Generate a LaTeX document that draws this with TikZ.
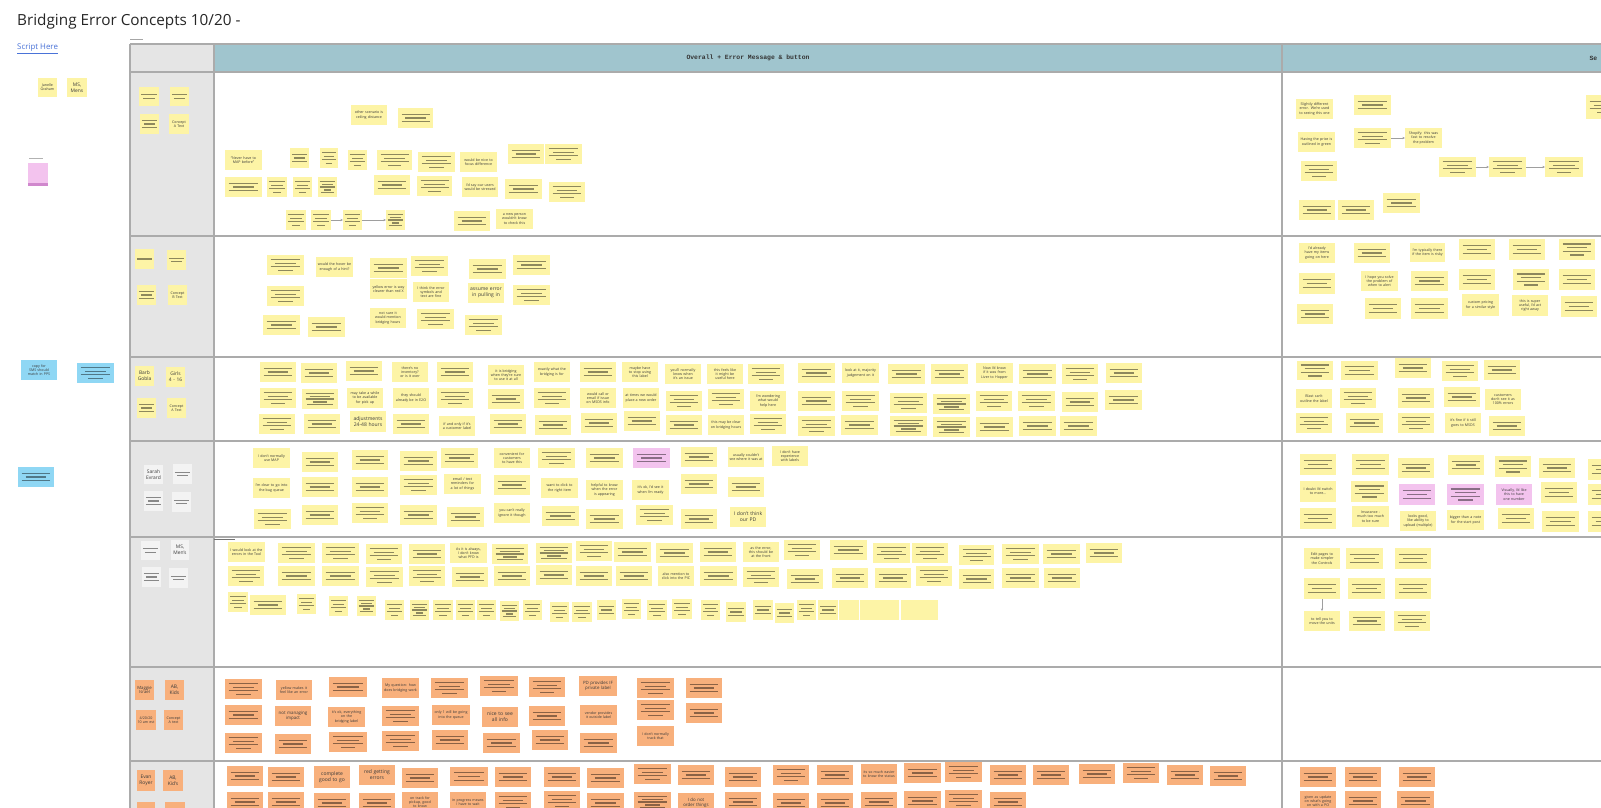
\documentclass[tikz,border=0pt]{standalone}
\usepackage{fontspec}
\setmainfont{Open Sans}
\newfontfamily\hdrmono{Liberation Mono}
\usetikzlibrary{calc,arrows.meta}
\definecolor{sy}{HTML}{FDF4A6}
\definecolor{so}{HTML}{F8B07C}
\definecolor{sp}{HTML}{F3C3EE}
\definecolor{sb}{HTML}{8FD7F4}
\definecolor{sg}{HTML}{F3F3F3}
\definecolor{colbg}{HTML}{E5E5E5}
\definecolor{hdrc}{HTML}{A0C5CE}
\definecolor{bordc}{HTML}{ABABAB}
\definecolor{linkc}{HTML}{4A73D8}
\definecolor{txtc}{HTML}{3A3A3A}
\hyphenpenalty=10000\relax
\exhyphenpenalty=10000\relax
\tikzset{
 sticky/.style={rectangle, inner sep=0pt, outer sep=0pt, draw=none},
 stkline/.style={line width=1.2pt, draw=black, draw opacity=0.44},
 tx/.style={font=\fontsize{3.6}{4.3}\selectfont},
 tm/.style={font=\fontsize{4.4}{5.1}\selectfont},
 tb/.style={font=\fontsize{5}{5.8}\selectfont},
 tl/.style={font=\fontsize{4.9}{5.8}\selectfont},
 conn/.style={draw=black!38, line width=0.7pt, -{Stealth[length=2.6pt,width=2.2pt]}},
 bline/.style={draw=bordc, line width=1.1pt},
}
\newcount\stkcount
\newcommand\stk[7][]{%
  \global\advance\stkcount by 1\relax
  \def\tmpname{#1}%
  \ifx\tmpname\empty\edef\tmpname{s\the\stkcount}\fi
  \pgfmathsetmacro\stkW{#5-#3}%
  \pgfmathsetmacro\stkH{#6-#4}%
  \node[sticky,fill=#2,minimum width=\stkW pt,minimum height=\stkH pt,anchor=north west] (\tmpname) at (#3,#4) {};%
  \ifnum#7>0\relax
    \pgfmathsetmacro\stkS{#7>4 ? 2.9 : 3.7}%
    \foreach \k in {1,...,#7}{%
      \pgfmathsetmacro\stkF{{0.8,0.58,0.8,0.38,0.7}[\k-1]}%
      \pgfmathsetmacro\stkY{(\k-1-(#7-1)/2)*\stkS}%
      \draw[stkline] ($(\tmpname.center)+(-\stkF*\stkW/2,\stkY)$) -- ++(\stkF*\stkW,0);%
    }%
  \fi
}
\newcommand\stt[8][]{%
  \global\advance\stkcount by 1\relax
  \def\tmpname{#1}%
  \ifx\tmpname\empty\edef\tmpname{s\the\stkcount}\fi
  \pgfmathsetmacro\stkW{#5-#3}%
  \pgfmathsetmacro\stkH{#6-#4}%
  \pgfmathsetmacro\stkT{#5-#3-3}%
  \node[sticky,#7,fill=#2,text=txtc,align=center,inner sep=1.5pt,text width=\stkT pt,minimum width=\stkW pt,minimum height=\stkH pt,anchor=north west] (\tmpname) at (#3,#4) {#8};%
}
\newcommand\ys[5]{\stk{sy}{#1}{#2}{#3}{#4}{#5}}
\newcommand\yt[5]{\stt{sy}{#1}{#2}{#3}{#4}{tx}{#5}}
\newcommand\yb[5]{\stt{sy}{#1}{#2}{#3}{#4}{tb}{#5}}
\newcommand\os[5]{\stk{so}{#1}{#2}{#3}{#4}{#5}}
\newcommand\ot[5]{\stt{so}{#1}{#2}{#3}{#4}{tx}{#5}}
\newcommand\ob[5]{\stt{so}{#1}{#2}{#3}{#4}{tb}{#5}}
\newcommand\ks[5]{\stk{sp}{#1}{#2}{#3}{#4}{#5}}
\newcommand\kt[5]{\stt{sp}{#1}{#2}{#3}{#4}{tx}{#5}}
\newcommand\gs[5]{\stk{sg}{#1}{#2}{#3}{#4}{#5}}
\begin{document}
\hyphenpenalty=10000\relax
\exhyphenpenalty=10000\relax
\begin{tikzpicture}[x=1pt,y=-1pt]
\useasboundingbox (0,0) rectangle (1601,808);
\clip (0,0) rectangle (1601,808);
\fill[white] (0,0) rectangle (1601,808);
% title and link
\node[anchor=base west,inner sep=0,font=\fontsize{15.3}{17}\selectfont,text=black!85] (title) at (17,26) {Bridging Error Concepts 10/20 -};
\node[anchor=west,inner sep=0,font=\fontsize{7.9}{9}\selectfont,text=linkc] (script) at (17,49) {\underline{Script Here}};
\draw[black!35, line width=0.9pt] (130,39) -- (143,39);
% board frame
\fill[colbg] (130,44) rectangle (214,808);
\fill[hdrc] (214,44) rectangle (1601,72);
\foreach \yy in {72,236,357,441,537,667,761} \draw[bline] (130,\yy) -- (1601,\yy);
\draw[bline] (130,44) -- (1601,44);
\draw[bline] (130,44) -- (130,808);
\draw[bline] (214,44) -- (214,808);
\draw[bline] (1282,44) -- (1282,808);
\draw[black!55, line width=0.9pt] (214,539.5) -- (235,539.5);
\node[font={\hdrmono\bfseries\fontsize{6.4}{7}\selectfont},text=black!80] (h1) at (748,58) {Overall + Error Message \& button};
\node[anchor=west,font={\hdrmono\bfseries\fontsize{6.4}{7}\selectfont},text=black!80] (h2) at (1586,58) {Se};
% left outside
\yt{38}{78}{57}{97}{Janelle Graham}
\stt{sy}{67}{78}{87}{97}{tl}{MS,\\Mens}
\draw[black!30, line width=0.9pt] (29,158) -- (43,158);
\stk[pinkcard]{sp}{28}{163}{48}{185}{0}
\fill[sp!70!violet] (28,183) rectangle (48,185.5);
\stt{sb}{21}{360}{57}{380}{tx}{copy for SMS should match in PPS}
\stk{sb}{77}{363}{114}{383}{4}
\stk{sb}{18}{467}{54}{487}{3}
% row labels
\ys{139}{87}{159}{106}{2}
\ys{170}{87}{189}{106}{2}
\ys{140}{114}{159}{134}{3}
\yt{169}{114}{189}{134}{Concept A Text}
\ys{135}{249}{154}{269}{1}
\ys{167}{250}{186}{270}{2}
\ys{137}{285}{156}{305}{3}
\yt{168}{285}{187}{305}{Concept B Text}
\stt{sy}{135}{366}{154}{386}{tl}{Barb\\Gobla}
\stt{sy}{166}{367}{185}{387}{tl}{Girls\\4 - 16}
\ys{137}{398}{156}{418}{3}
\yt{167}{398}{186}{418}{Concept A Text}
\stt{sg}{144}{465}{163}{484}{tl}{Sarah\\Evrard}
\gs{173}{464}{192}{484}{2}
\gs{144}{491}{163}{511}{3}
\gs{172}{492}{191}{512}{2}
\gs{141}{541}{160}{560}{2}
\stt{sg}{171}{540}{189}{560}{tl}{MS,\\Men's}
\gs{142}{567}{161}{587}{3}
\gs{169}{568}{188}{588}{2}
\stt{so}{135}{680}{154}{700}{tx}{\fontsize{4.3}{5}\selectfont Maggie\\Israel}
\stt{so}{165}{680}{184}{700}{tl}{AB,\\Kids}
\ot{136}{710}{156}{730}{4/20/20 10 am est}
\ot{164}{710}{183}{730}{Concept A text}
\stt{so}{137}{770}{155}{791}{tl}{Evan\\Royer}
\stt{so}{163}{770}{183}{791}{tl}{AB,\\Kid's}
\os{137}{802}{155}{822}{2}
\os{165}{802}{185}{822}{1}
% ===== row 1 left
\yt{351}{105}{387}{125}{other scenario is ceiling distance}
\ys{398}{108}{433}{128}{3}
\yt{225}{150}{262}{170}{``Never have to MAP before''}
\ys{290}{148}{309}{168}{3}
\ys{320}{148}{338}{168}{4}
\ys{348}{150}{367}{170}{4}
\ys{377}{150}{412}{170}{4}
\ys{418}{152}{455}{172}{4}
\yt{460}{152}{497}{172}{would be nice to focus difference}
\ys{508}{144}{544}{164}{3}
\ys{545}{144}{582}{164}{4}
\ys{225}{177}{262}{197}{3}
\ys{267}{177}{287}{197}{4}
\ys{293}{177}{312}{197}{4}
\ys{318}{177}{337}{197}{5}
\ys{374}{175}{410}{195}{3}
\ys{417}{176}{452}{196}{4}
\yt{462}{177}{498}{197}{I'd say our users would be stressed}
\ys{505}{179}{542}{199}{3}
\ys{549}{182}{585}{202}{4}
\stk[ra]{sy}{286}{210}{306}{230}{4}
\stk[rb]{sy}{311}{210}{331}{230}{4}
\stk[rc]{sy}{343}{210}{362}{230}{4}
\stk[rd]{sy}{386}{210}{405}{230}{5}
\ys{454}{211}{490}{231}{3}
\yt{496}{209}{533}{229}{a new person wouldn't know to check this}
\draw[conn] (rb.east) -- (rc.west);
\draw[conn] (rc.east) -- (rd.west);
% ===== row 1 right
\yt{1296}{99}{1333}{119}{Slightly different error. We're used to seeing this one}
\ys{1354}{95}{1391}{115}{3}
\yt{1298}{132}{1335}{152}{Having the price is outlined in green}
\stk[rr1]{sy}{1354}{128}{1391}{148}{4}
\stt[rr2]{sy}{1405}{128}{1442}{148}{tx}{Shopify: this was fast to resolve the problem}
\ys{1301}{161}{1337}{181}{4}
\stk[rr3]{sy}{1439}{157}{1476}{177}{4}
\stk[rr4]{sy}{1489}{157}{1526}{177}{4}
\stk[rr5]{sy}{1545}{157}{1583}{177}{4}
\ys{1299}{200}{1335}{220}{3}
\ys{1338}{200}{1374}{220}{3}
\ys{1383}{193}{1420}{213}{3}
\ys{1586}{95}{1622}{119}{4}
\draw[conn] (rr1.east) -- (rr2.west);
\draw[conn] (rr3.east) -- (rr4.west);
\draw[conn] (rr4.east) -- (rr5.west);
% ===== row 2 left
\ys{267}{255}{304}{275}{4}
\yt{316}{257}{353}{277}{would the hover be enough of a hint?}
\ys{370}{258}{407}{278}{3}
\ys{411}{256}{448}{276}{4}
\yt{370}{279}{407}{299}{yellow error is way clearer than red X}
\yt{413}{282}{449}{302}{I think the error symbols and text are fine}
\ys{469}{259}{506}{279}{3}
\ys{513}{255}{550}{275}{3}
\yb{468}{283}{504}{303}{assume error\\in pulling in}
\ys{513}{285}{550}{305}{4}
\ys{267}{286}{304}{306}{4}
\ys{263}{315}{300}{335}{3}
\ys{308}{317}{345}{337}{3}
\yt{370}{308}{406}{328}{not sure it would mention bridging hours}
\ys{417}{309}{454}{329}{4}
\ys{465}{315}{502}{335}{4}
% ===== row 2 right
\yt{1299}{243}{1335}{263}{I'd already have my items going on here}
\ys{1354}{243}{1390}{263}{3}
\yt{1410}{243}{1445}{262}{I'm typically there if the item is risky}
\ys{1459}{239}{1495}{260}{3}
\ys{1509}{239}{1545}{260}{3}
\ys{1559}{239}{1595}{260}{4}
\ys{1299}{273}{1335}{294}{3}
\yt{1361}{271}{1398}{291}{I hope you solve the problem of when to alert}
\ys{1411}{271}{1448}{291}{3}
\ys{1459}{269}{1495}{290}{3}
\ys{1513}{269}{1549}{290}{4}
\ys{1559}{269}{1595}{290}{3}
\ys{1297}{304}{1333}{324}{3}
\ys{1365}{298}{1401}{319}{3}
\ys{1411}{298}{1448}{319}{3}
\yt{1462}{294}{1499}{316}{custom pricing for a similar style}
\yt{1512}{295}{1548}{316}{this is super useful, I'd act right away}
\ys{1561}{296}{1597}{317}{3}
% ===== row 3 left
\ys{260}{362}{296}{382}{3}
\ys{260}{388}{296}{408}{4}
\ys{259}{414}{295}{434}{4}
\ys{301}{363}{337}{383}{3}
\ys{302}{389}{338}{409}{5}
\ys{304}{414}{340}{434}{3}
\ys{346}{361}{382}{381}{3}
\yt{347}{388}{383}{408}{may take a while to be available for pick up}
\yb{350}{411}{386}{432}{adjustments\\24-48 hours}
\yt{392}{362}{428}{382}{there's no inventory? or is it over}
\yt{393}{388}{429}{408}{they should already be in E2O}
\ys{393}{414}{429}{434}{3}
\ys{437}{362}{473}{382}{3}
\ys{437}{388}{473}{408}{4}
\yt{439}{416}{475}{436}{if and only if it's a customer label}
\yt{488}{365}{524}{385}{it is bridging when they're sure to use it at all}
\ys{488}{389}{524}{409}{3}
\ys{490}{414}{526}{434}{3}
\yt{534}{362}{570}{382}{exactly what the bridging is for}
\ys{534}{388}{570}{408}{4}
\ys{535}{415}{571}{435}{3}
\ys{580}{362}{616}{382}{3}
\yt{580}{388}{616}{408}{would call or email if issue on MSDS info}
\ys{581}{413}{617}{433}{3}
\yt{622}{362}{658}{382}{maybe have to stop using this label}
\yt{623}{388}{659}{408}{at times we would place a new order}
\ys{624}{411}{660}{431}{3}
\yt{665}{364}{701}{384}{you'll normally know when it's an issue}
\ys{666}{391}{702}{411}{4}
\ys{666}{415}{702}{435}{3}
\yt{707}{364}{743}{384}{this feels like it might be useful here}
\ys{708}{389}{744}{409}{4}
\yt{708}{415}{744}{435}{this may be clear on bridging hours}
\ys{748}{364}{784}{384}{4}
\yt{750}{391}{786}{411}{I'm wondering what would help here}
\ys{750}{414}{786}{434}{4}
\ys{798}{363}{835}{383}{3}
\ys{798}{391}{835}{411}{3}
\ys{798}{416}{835}{436}{4}
\yt{842}{363}{879}{383}{look at it, majority judgement on it}
\ys{842}{391}{879}{411}{4}
\ys{841}{415}{878}{435}{3}
\ys{888}{364}{925}{384}{3}
\ys{890}{393}{927}{413}{4}
\ys{890}{416}{927}{436}{5}
\ys{931}{364}{968}{384}{3}
\ys{933}{394}{970}{414}{5}
\ys{933}{417}{970}{437}{5}
\yt{976}{363}{1013}{383}{Now I'd know if it was from Liver to Hopper}
\ys{976}{391}{1012}{411}{4}
\ys{976}{417}{1013}{437}{3}
\ys{1019}{364}{1056}{384}{3}
\ys{1018}{391}{1055}{411}{4}
\ys{1019}{416}{1056}{436}{3}
\ys{1062}{364}{1098}{384}{4}
\ys{1062}{392}{1098}{412}{3}
\ys{1060}{416}{1097}{436}{3}
\ys{1106}{363}{1142}{383}{3}
\ys{1105}{390}{1142}{410}{3}
% ===== row 3 right
\ys{1297}{361}{1333}{380}{4}
\ys{1341}{361}{1378}{380}{3}
\ys{1395}{358}{1431}{378}{3}
\ys{1442}{361}{1478}{381}{4}
\ys{1484}{360}{1520}{380}{3}
\yt{1296}{389}{1332}{408}{Blast can't outline the label}
\ys{1340}{388}{1376}{408}{4}
\ys{1398}{388}{1434}{408}{3}
\ys{1444}{387}{1480}{407}{3}
\yt{1485}{389}{1521}{410}{customers don't see it as 100\% errors}
\ys{1296}{413}{1332}{433}{4}
\ys{1346}{413}{1383}{433}{3}
\ys{1398}{413}{1434}{433}{4}
\yt{1445}{413}{1481}{433}{it's fine if it still goes to MSDS}
\ys{1489}{416}{1525}{436}{3}
% ===== row 4 left
\yt{253}{448}{290}{468}{I don't normally use MAP}
\yt{253}{478}{290}{498}{I'm clear to go into the bug queue}
\ys{254}{509}{291}{529}{4}
\ys{302}{452}{338}{472}{3}
\ys{302}{477}{338}{497}{3}
\ys{302}{505}{338}{525}{3}
\ys{352}{450}{388}{470}{3}
\ys{352}{477}{388}{497}{3}
\ys{352}{503}{388}{523}{4}
\ys{400}{451}{437}{471}{3}
\ys{400}{475}{437}{495}{4}
\ys{400}{505}{437}{525}{3}
\ys{441}{448}{478}{468}{3}
\yt{444}{474}{481}{494}{email / text reminders for a lot of things}
\ys{447}{507}{484}{527}{3}
\yt{494}{448}{530}{468}{convenient for customers to have this}
\ys{494}{475}{530}{495}{3}
\yt{494}{503}{530}{523}{you can't really ignore it though}
\ys{538}{448}{575}{468}{4}
\yt{541}{478}{578}{498}{want to click to the right item}
\ys{542}{506}{579}{526}{3}
\ys{586}{448}{623}{468}{3}
\yt{586}{480}{623}{500}{helpful to know when the error is appearing}
\ys{586}{509}{623}{529}{3}
\ks{633}{448}{670}{468}{3}
\yt{632}{480}{669}{500}{it's ok, I'd see it when I'm ready}
\ys{636}{505}{673}{525}{4}
\ys{681}{447}{717}{467}{3}
\ys{681}{474}{717}{494}{3}
\ys{681}{509}{717}{529}{3}
\yt{728}{447}{764}{467}{usually couldn't see where it was at}
\ys{728}{477}{764}{497}{3}
\yb{730}{507}{766}{527}{I don't think\\our PD}
\yt{772}{446}{808}{466}{I don't have experience with labels}
% ===== row 4 right
\ys{1300}{454}{1336}{475}{3}
\ys{1352}{454}{1389}{475}{3}
\ys{1398}{458}{1434}{478}{3}
\ys{1448}{455}{1484}{475}{3}
\ys{1495}{456}{1531}{477}{4}
\ys{1539}{458}{1575}{478}{3}
\ys{1588}{459}{1624}{480}{3}
\yt{1300}{481}{1336}{502}{I doubt I'd switch to more...}
\ys{1351}{481}{1388}{502}{4}
\ks{1399}{484}{1435}{505}{3}
\ks{1447}{484}{1484}{505}{4}
\kt{1496}{484}{1532}{505}{Visually, I'd like this to have one number}
\ys{1541}{482}{1577}{503}{3}
\ys{1588}{484}{1624}{505}{3}
\ys{1300}{508}{1336}{529}{3}
\yt{1352}{506}{1389}{527}{Insurance - much too much to be sure}
\yt{1400}{511}{1436}{531}{looks good, like ability to upload (multiple)}
\yt{1447}{510}{1484}{530}{bigger than a note for the start post}
\ys{1498}{508}{1534}{529}{3}
\ys{1542}{511}{1579}{532}{3}
\ys{1588}{511}{1624}{532}{3}
% ===== row 5 left
\yt{228}{542}{265}{562}{I would look at the errors in the Tool}
\ys{278}{543}{315}{563}{4}
\ys{322}{543}{359}{563}{4}
\ys{366}{544}{402}{564}{4}
\ys{409}{544}{445}{564}{3}
\yt{450}{543}{487}{563}{As it is always, I don't know what PFD is}
\ys{492}{544}{528}{564}{5}
\ys{536}{543}{572}{563}{5}
\ys{576}{541}{612}{561}{4}
\ys{614}{542}{651}{562}{3}
\ys{656}{543}{693}{563}{3}
\ys{700}{542}{736}{562}{3}
\yt{743}{542}{779}{562}{as the error, this should be at the front}
\ys{784}{540}{820}{560}{4}
\ys{830}{540}{867}{560}{3}
\ys{873}{543}{910}{563}{4}
\ys{912}{543}{948}{563}{4}
\ys{959}{545}{994}{565}{4}
\ys{1002}{544}{1039}{564}{4}
\ys{1043}{544}{1080}{564}{3}
\ys{1086}{543}{1122}{563}{3}
\ys{228}{566}{264}{586}{4}
\ys{278}{566}{315}{586}{3}
\ys{322}{566}{359}{586}{3}
\ys{366}{567}{403}{587}{4}
\ys{409}{566}{445}{586}{4}
\ys{452}{567}{488}{587}{3}
\ys{494}{566}{530}{586}{3}
\ys{536}{565}{572}{585}{3}
\ys{576}{566}{612}{586}{3}
\ys{616}{566}{652}{586}{3}
\yt{658}{566}{694}{586}{also mention to click into the PIC}
\ys{700}{566}{737}{586}{3}
\ys{743}{567}{779}{587}{4}
\ys{787}{569}{823}{589}{3}
\ys{832}{568}{868}{588}{3}
\ys{875}{568}{911}{588}{3}
\ys{916}{566}{952}{586}{4}
\ys{959}{569}{994}{589}{3}
\ys{1002}{568}{1039}{588}{3}
\ys{1044}{568}{1080}{588}{3}
\ys{228}{592}{248}{612}{4}
\ys{250}{595}{286}{615}{3}
\ys{297}{594}{316}{614}{4}
\ys{329}{596}{348}{616}{4}
\ys{357}{596}{376}{616}{5}
\ys{385}{600}{404}{620}{4}
\ys{410}{600}{429}{620}{5}
\ys{433}{600}{453}{620}{4}
\ys{456}{600}{475}{620}{4}
\ys{477}{600}{496}{620}{4}
\ys{500}{601}{519}{621}{5}
\ys{523}{600}{542}{620}{4}
\ys{550}{602}{569}{622}{4}
\ys{572}{602}{592}{622}{4}
\ys{597}{600}{616}{620}{3}
\ys{622}{599}{641}{619}{4}
\ys{647}{600}{667}{620}{4}
\ys{672}{599}{692}{619}{4}
\ys{701}{600}{720}{620}{4}
\ys{726}{602}{746}{622}{3}
\ys{753}{600}{773}{620}{3}
\ys{775}{603}{794}{623}{3}
\ys{797}{600}{816}{620}{4}
\ys{818}{600}{838}{620}{3}
\ys{839}{600}{859}{620}{0}
\ys{860}{600}{879}{620}{0}
\ys{879}{600}{899}{620}{0}
\ys{901}{600}{920}{620}{0}
\ys{918}{600}{938}{620}{0}
% ===== row 5 right
\yt{1304}{548}{1340}{569}{Edit pages to make simpler the Controls}
\ys{1346}{548}{1383}{569}{3}
\ys{1395}{548}{1431}{569}{3}
\stk[rfa]{sy}{1304}{578}{1340}{599}{3}
\ys{1348}{578}{1385}{599}{3}
\ys{1395}{578}{1431}{599}{3}
\stt[rfb]{sy}{1304}{611}{1340}{631}{tx}{to tell you to move the units}
\ys{1349}{611}{1385}{631}{3}
\ys{1394}{611}{1430}{631}{4}
\draw[conn] (rfa.south) -- (rfb.north);
% ===== row 6 left (orange)
\os{225}{679}{262}{699}{4}
\ot{276}{680}{312}{700}{yellow makes it feel like an error}
\os{329}{677}{367}{697}{3}
\ot{382}{678}{419}{698}{My question: how does bridging work}
\os{431}{678}{468}{698}{4}
\os{480}{676}{518}{696}{4}
\os{529}{677}{565}{697}{4}
\stt{so}{579}{676}{617}{696}{tm}{PD provides IF\\private label}
\os{637}{678}{674}{698}{4}
\os{686}{678}{722}{698}{3}
\os{225}{705}{262}{725}{3}
\stt{so}{275}{706}{311}{726}{tm}{not managing\\impact}
\ot{328}{707}{365}{727}{it's ok, everything on the bridging label}
\os{382}{706}{419}{726}{4}
\ot{432}{705}{470}{725}{only 1 will be going into the queue}
\ob{482}{707}{518}{727}{nice to see\\all info}
\os{529}{706}{565}{726}{3}
\ot{580}{705}{617}{725}{vendor provides it outside label}
\os{637}{700}{674}{720}{4}
\os{686}{703}{722}{723}{3}
\os{225}{733}{262}{753}{4}
\os{275}{734}{311}{754}{3}
\os{329}{732}{367}{752}{4}
\os{382}{731}{419}{751}{4}
\os{432}{730}{468}{750}{3}
\os{483}{733}{520}{753}{3}
\os{532}{730}{568}{750}{3}
\os{580}{733}{617}{753}{3}
\ot{637}{726}{674}{746}{I don't normally track that}
% ===== row 7 left (orange)
\os{227}{766}{263}{786}{3}
\os{268}{767}{304}{787}{3}
\ob{314}{766}{350}{788}{complete\\good to go}
\ob{359}{765}{395}{785}{red getting\\errors}
\os{402}{768}{438}{788}{3}
\os{450}{767}{488}{786}{3}
\os{495}{767}{531}{787}{3}
\os{544}{767}{580}{787}{3}
\os{587}{768}{624}{788}{3}
\os{634}{764}{671}{784}{4}
\os{678}{765}{714}{785}{3}
\os{725}{767}{761}{787}{3}
\os{773}{765}{809}{785}{4}
\os{817}{765}{853}{785}{3}
\ot{861}{764}{897}{784}{its so much easier to know the status}
\os{904}{763}{941}{783}{3}
\os{945}{762}{982}{782}{4}
\os{990}{765}{1026}{785}{3}
\os{1033}{765}{1069}{785}{3}
\os{1079}{764}{1115}{784}{3}
\os{1123}{763}{1159}{783}{4}
\os{1167}{765}{1203}{785}{3}
\os{1210}{766}{1246}{786}{3}
\os{227}{792}{263}{812}{3}
\os{268}{792}{304}{812}{3}
\os{314}{793}{350}{813}{3}
\os{359}{793}{395}{813}{3}
\ot{402}{792}{438}{812}{on track for pickup, good to know}
\ot{450}{792}{486}{812}{in progress means I have to wait}
\os{495}{792}{531}{812}{4}
\os{544}{791}{580}{811}{4}
\os{587}{793}{624}{813}{3}
\os{634}{792}{671}{812}{5}
\stt{so}{678}{793}{714}{813}{tm}{I do not\\order things}
\os{725}{792}{761}{812}{3}
\os{773}{793}{809}{813}{3}
\os{817}{793}{853}{813}{3}
\os{861}{792}{897}{812}{3}
\os{904}{791}{941}{811}{3}
\os{945}{790}{982}{810}{4}
\os{990}{792}{1026}{812}{3}
% ===== row 7 right
\os{1300}{767}{1336}{787}{3}
\os{1345}{767}{1381}{787}{3}
\os{1399}{767}{1435}{787}{3}
\ot{1300}{791}{1336}{811}{given as update on what's going on with a PO}
\os{1345}{791}{1381}{811}{3}
\os{1397}{791}{1434}{811}{3}
\end{tikzpicture}
\end{document}
